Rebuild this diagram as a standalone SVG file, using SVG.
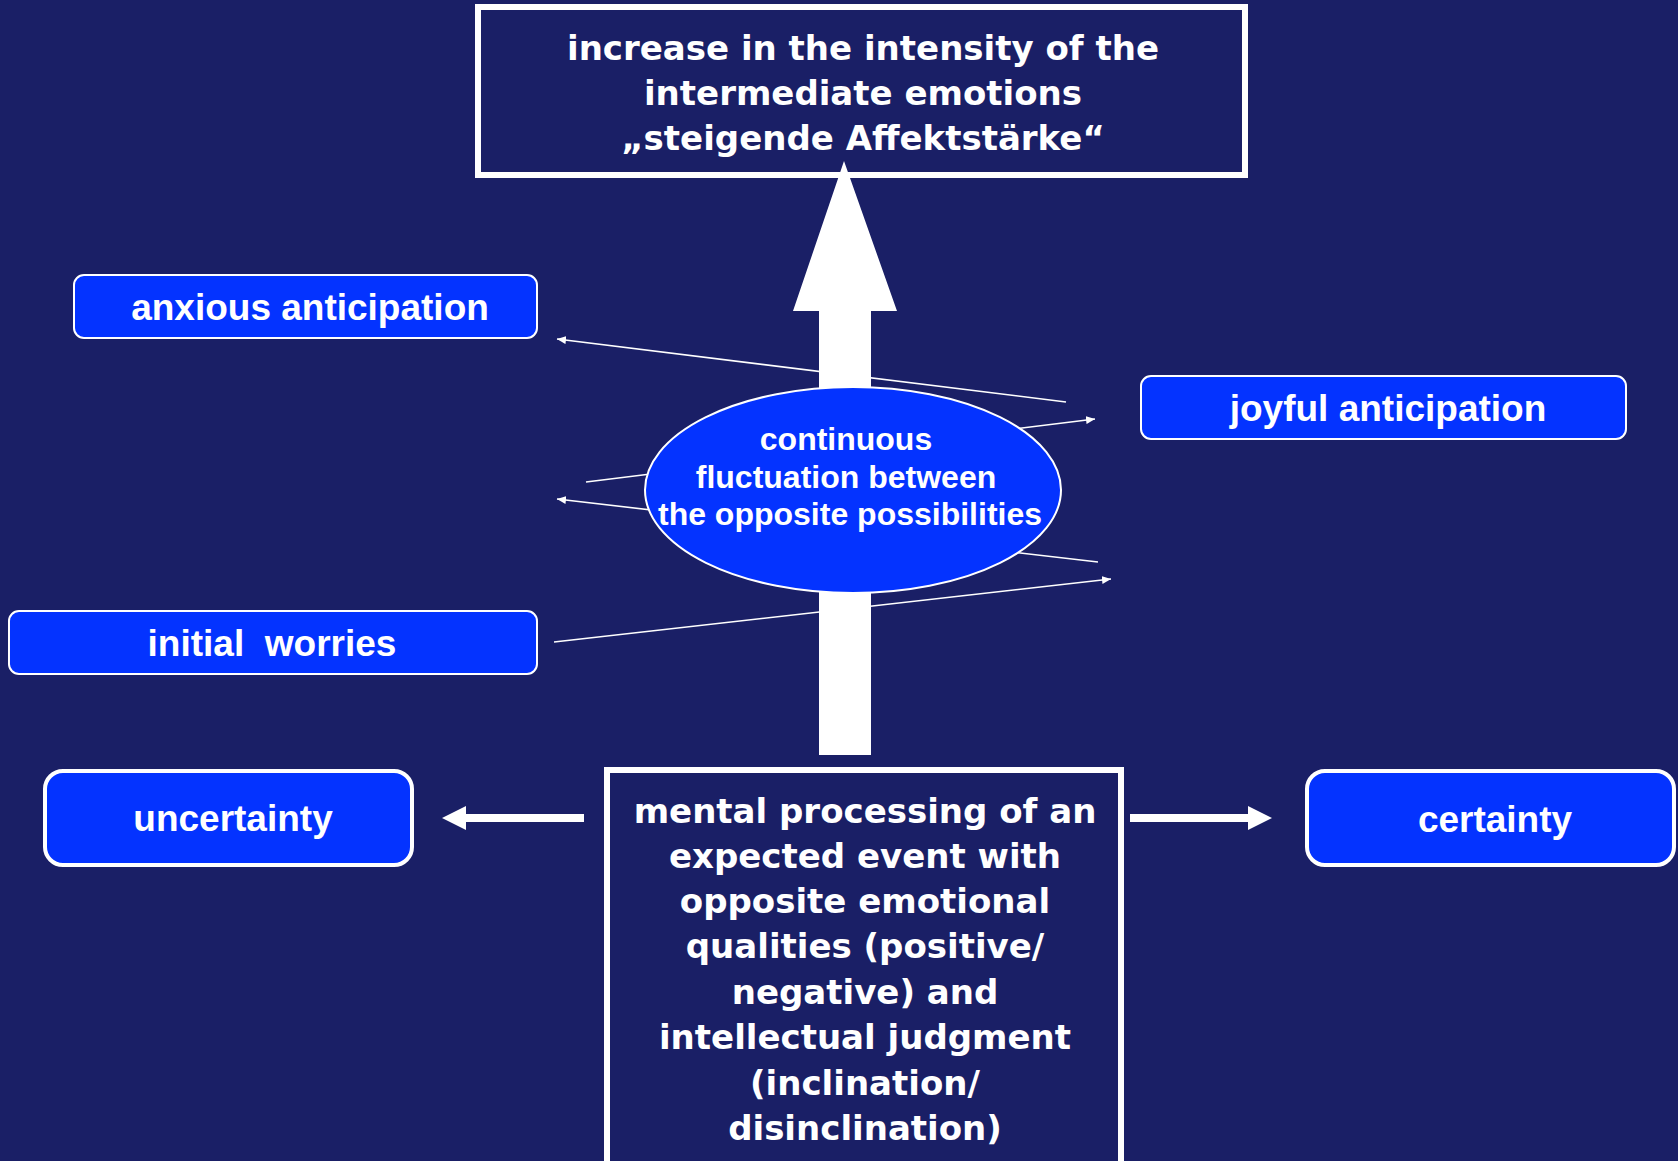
<svg xmlns="http://www.w3.org/2000/svg" width="1678" height="1161" viewBox="0 0 1678 1161">
<style>
.bg{fill:#1a1f66}
.pill{fill:#0433ff;stroke:#ffffff;stroke-width:2}
.pill2{fill:#0433ff;stroke:#ffffff;stroke-width:4}
.frame{fill:none;stroke:#ffffff;stroke-width:6}
.lbl{font-family:"Liberation Sans",Arial,sans-serif;font-weight:bold;fill:#ffffff;text-anchor:middle}
.big{font-family:"DejaVu Sans","Liberation Sans",sans-serif;font-weight:bold;font-size:34px;fill:#ffffff;text-anchor:middle}
.thin{fill:none;stroke:#ffffff;stroke-width:1.6;marker-end:url(#ah)}
</style>
<defs>
<marker id="ah" markerUnits="userSpaceOnUse" markerWidth="10" markerHeight="8" refX="9" refY="4" orient="auto">
<path d="M0,0 L9,4 L0,8 Z" fill="#ffffff"/>
</marker>
</defs>
<rect class="bg" x="0" y="0" width="1678" height="1161"/>
<g id="connectors">
<line class="thin" x1="1066" y1="402" x2="557" y2="339"/>
<line class="thin" x1="586" y1="482" x2="1095" y2="419"/>
<line class="thin" x1="1098" y1="562" x2="557" y2="499"/>
<line class="thin" x1="554" y1="642" x2="1111" y2="579"/>
<polygon id="rise-arrow" points="844,161 897,311 871,311 871,755 819,755 819,311 793,311" fill="#ffffff"/>
<polygon id="arrow-uncertainty" points="584,814 466,814 466,806 442,818 466,830 466,822 584,822" fill="#ffffff"/>
<polygon id="arrow-certainty" points="1130,814 1248,814 1248,806 1272,818 1248,830 1248,822 1130,822" fill="#ffffff"/>
</g>
<g id="node-intensity">
<rect class="frame" x="478" y="7" width="767" height="168"/>
<text class="big" x="863" y="60">increase in the intensity of the</text>
<text class="big" x="863" y="105">intermediate emotions</text>
<text class="big" x="863" y="150">„steigende Affektstärke“</text>
</g>
<g id="node-anxious">
<rect class="pill" x="74" y="275" width="463" height="63" rx="10"/>
<text class="lbl" x="310" y="320" font-size="37">anxious anticipation</text>
</g>
<g id="node-joyful">
<rect class="pill" x="1141" y="376" width="485" height="63" rx="10"/>
<text class="lbl" x="1388" y="421" font-size="37">joyful anticipation</text>
</g>
<g id="node-worries">
<rect class="pill" x="9" y="611" width="528" height="63" rx="10"/>
<text class="lbl" x="272" y="656" font-size="37" xml:space="preserve">initial  worries</text>
</g>
<g id="node-fluctuation">
<ellipse cx="853" cy="490" rx="208" ry="103" fill="#0433ff" stroke="#ffffff" stroke-width="2"/>
<text class="lbl" x="846" y="450" font-size="32">continuous</text>
<text class="lbl" x="846" y="488" font-size="32">fluctuation between</text>
<text class="lbl" x="850" y="525" font-size="32">the opposite possibilities</text>
</g>
<g id="node-uncertainty">
<rect class="pill2" x="45" y="771" width="367" height="94" rx="18"/>
<text class="lbl" x="233" y="831" font-size="37">uncertainty</text>
</g>
<g id="node-certainty">
<rect class="pill2" x="1307" y="771" width="367" height="94" rx="18"/>
<text class="lbl" x="1495" y="832" font-size="37">certainty</text>
</g>
<g id="node-processing">
<rect class="frame" x="607" y="770" width="514" height="420"/>
<text class="big" x="865" y="823">mental processing of an</text>
<text class="big" x="865" y="868">expected event with</text>
<text class="big" x="865" y="913">opposite emotional</text>
<text class="big" x="865" y="958">qualities (positive/</text>
<text class="big" x="865" y="1004">negative) and</text>
<text class="big" x="865" y="1049">intellectual judgment</text>
<text class="big" x="865" y="1095">(inclination/</text>
<text class="big" x="865" y="1140">disinclination)</text>
</g>
</svg>
